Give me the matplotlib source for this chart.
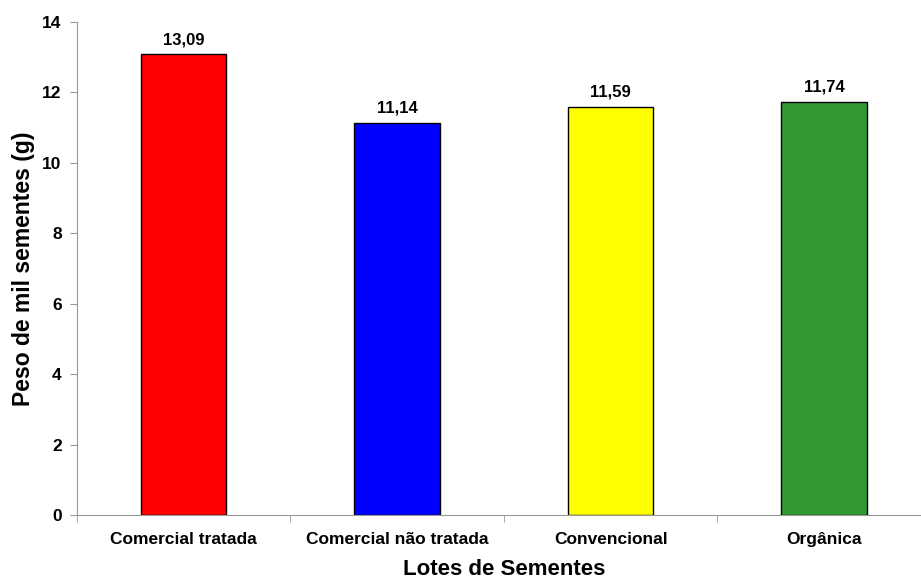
import matplotlib.pyplot as plt
from matplotlib.ticker import FixedLocator

plt.rcParams['font.family'] = ['Liberation Sans', 'DejaVu Sans']
plt.rcParams['font.weight'] = 'bold'

lotes = ['Comercial tratada', 'Comercial não tratada', 'Convencional', 'Orgânica']
peso = [13.09, 11.14, 11.59, 11.74]
cores = ['#FF0000', '#0000FF', '#FFFF00', '#339933']

fig = plt.figure(figsize=(9.21, 5.81), dpi=100)
ax = fig.add_axes([0.0836, 0.1136, 0.927, 0.8485])

x = range(len(lotes))
bars = ax.bar(x, peso, width=0.4, color=cores, edgecolor='black', linewidth=1)

for b, v in zip(bars, peso):
    ax.annotate(f'{v:.2f}'.replace('.', ','), (b.get_x() + b.get_width() / 2, v),
                xytext=(0, 5), textcoords='offset points', ha='center', va='bottom',
                fontsize=12, fontweight='bold')

ax.set_xlim(-0.5, len(lotes) - 0.5)
ax.set_ylim(0, 14)
ax.set_yticks(range(0, 15, 2))
ax.set_xticks(list(x))
ax.set_xticklabels(lotes)
ax.xaxis.set_minor_locator(FixedLocator([i + 0.5 for i in range(-1, len(lotes))]))

ax.tick_params(axis='x', which='major', length=0, pad=12, labelsize=12.5)
ax.tick_params(axis='x', which='minor', length=5, color='#999999')
ax.tick_params(axis='y', length=5, color='#999999', labelsize=12.5, pad=6)

for s in ['top', 'right']:
    ax.spines[s].set_visible(False)
for s in ['left', 'bottom']:
    ax.spines[s].set_color('#999999')

ax.set_xlabel('Lotes de Sementes', fontsize=16, fontweight='bold', labelpad=9)
ax.set_ylabel('Peso de mil sementes (g)', fontsize=16.5, fontweight='bold', labelpad=5)

plt.savefig('out.png', dpi=100)
